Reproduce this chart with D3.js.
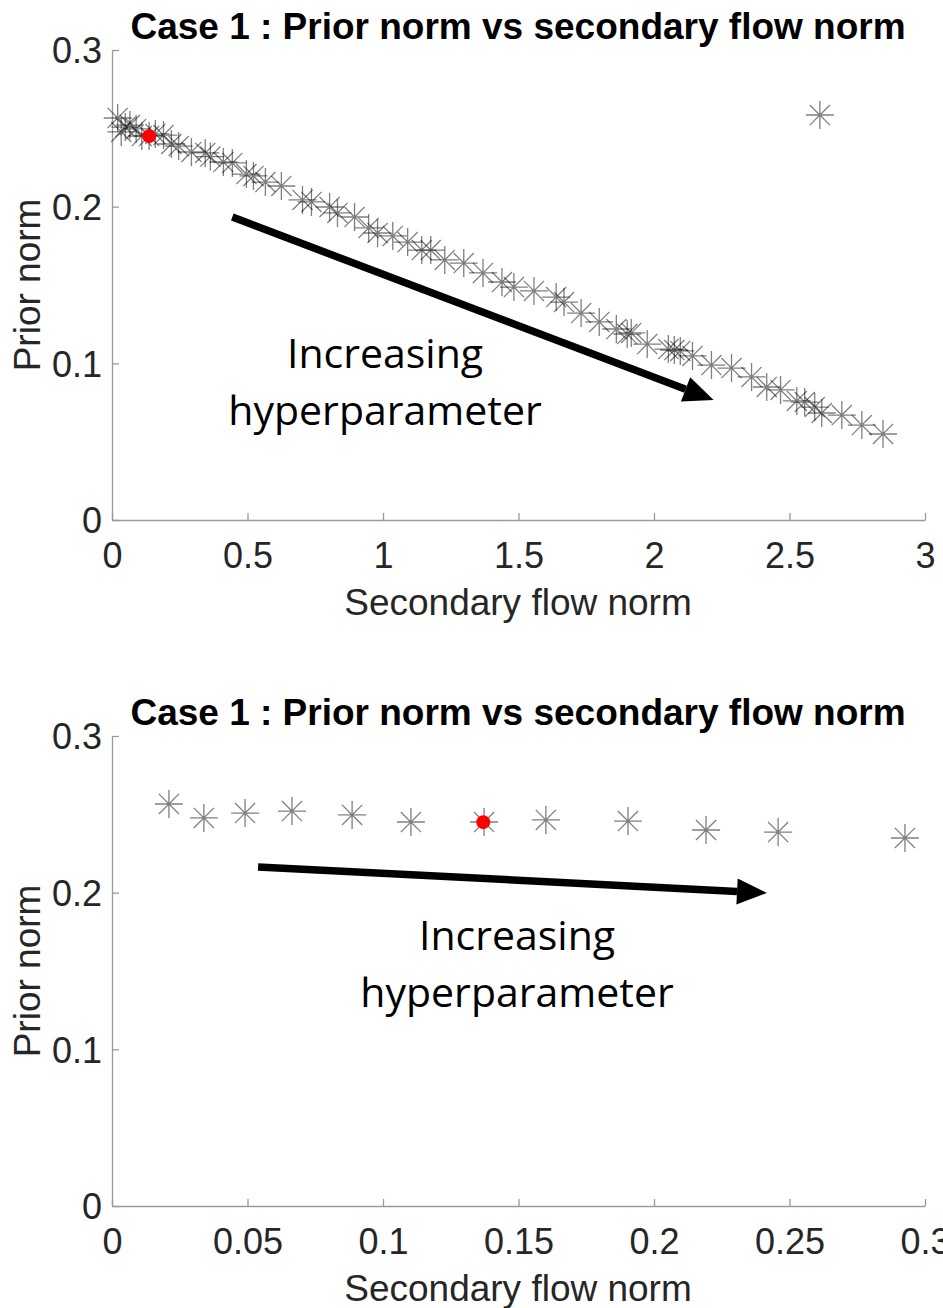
<!DOCTYPE html>
<meta charset="utf-8">
<script src="https://d3js.org/d3.v7.min.js"></script>
<style>
  body { margin: 0; background: #fff; }
</style>
<body>
<div id="chart"></div>
</body>
<script>

// top panel: all runs
var flowAll = [0.021, 0.034, 0.049, 0.066, 0.089, 0.110, 0.137, 0.160, 0.190, 0.219, 0.246, 0.293,
  0.344, 0.363, 0.411, 0.444, 0.496, 0.522, 0.566, 0.625, 0.703, 0.736, 0.803, 0.832, 0.895,
  0.947, 0.980, 1.036, 1.091, 1.143, 1.176, 1.228, 1.298, 1.369, 1.439, 1.483, 1.557, 1.639,
  1.668, 1.731, 1.798, 1.861, 1.901, 1.916, 1.975, 2.053, 2.075, 2.097, 2.142, 2.212, 2.286,
  2.360, 2.416, 2.467, 2.527, 2.556, 2.593, 2.619, 2.693, 2.767, 2.845, 2.612];
var priorAll = [0.2566, 0.2477, 0.2508, 0.2521, 0.2496, 0.2451, 0.2451, 0.2464, 0.2457, 0.2400, 0.2387, 0.2349,
  0.2343, 0.2320, 0.2285, 0.2279, 0.2208, 0.2196, 0.2157, 0.2132, 0.2043, 0.2030, 0.1998, 0.1960, 0.1934,
  0.1864, 0.1832, 0.1813, 0.1774, 0.1723, 0.1723, 0.1660, 0.1640, 0.1577, 0.1519, 0.1487, 0.1462, 0.1423,
  0.1391, 0.1321, 0.1264, 0.1219, 0.1187, 0.1194, 0.1123, 0.1091, 0.1085, 0.1079, 0.1047, 0.0989, 0.0970,
  0.0913, 0.0849, 0.0830, 0.0760, 0.0753, 0.0721, 0.0683, 0.0670, 0.0606, 0.0549, 0.2585];

// bottom panel: zoom on small flow norm
var flowZoom = [0.0210, 0.0339, 0.0491, 0.0664, 0.0886, 0.1103, 0.1373, 0.1601, 0.1904, 0.2192, 0.2458, 0.2926];
var priorZoom = [0.2566, 0.2477, 0.2508, 0.2521, 0.2496, 0.2451, 0.2451, 0.2464, 0.2457, 0.2400, 0.2387, 0.2349];

// selected hyperparameter
var chosen = { flow: 0.137, prior: 0.245 };

var xTicksTop = [0, 0.5, 1, 1.5, 2, 2.5, 3];
var xTicksBottom = [0, 0.05, 0.1, 0.15, 0.2, 0.25, 0.3];
var yTicks = [0, 0.1, 0.2, 0.3];

// arrows [x0, y0, x1, y1] in data units
var arrowTop = [0.444, 0.1934, 2.22, 0.0766];
var arrowBottom = [0.0539, 0.2164, 0.2417, 0.1998];

var title = "Case 1 : Prior norm vs secondary flow norm";

var W = 943, H = 1308;
var svg = d3.select("#chart").append("svg")
  .attr("width", W).attr("height", H);

function asterisk(r) {
  var d = r * 0.72;
  return "M" + (-r) + ",0H" + r + "M0," + (-r) + "V" + r +
    "M" + (-d) + "," + (-d) + "L" + d + "," + d +
    "M" + (-d) + "," + d + "L" + d + "," + (-d);
}

function panel(opt) {
  var x = d3.scaleLinear().domain(opt.xDomain).range([112, 925]);
  var y = d3.scaleLinear().domain([0, 0.3]).range([opt.bottom, opt.bottom - 470]);
  var g = svg.append("g");

  // axes
  var ax = g.append("g").attr("transform", "translate(0," + opt.bottom + ")")
    .call(d3.axisBottom(x).tickValues(opt.xTicks).tickSize(-7).tickSizeOuter(0)
      .tickFormat(d3.format("~g")));
  ax.selectAll("text").attr("dy", 0).attr("y", 48);
  var ay = g.append("g").attr("transform", "translate(112,0)")
    .call(d3.axisLeft(y).tickValues(yTicks).tickSize(-7).tickSizeOuter(0)
      .tickFormat(d3.format("~g")));
  ay.selectAll("text").attr("x", -10).attr("dy", "0.36em");
  g.selectAll(".domain, .tick line").attr("stroke", "#9a9a9a").attr("stroke-width", 1.3);
  g.selectAll(".tick text").attr("font-family", "Liberation Sans, Arial, sans-serif")
    .attr("font-size", 36).attr("fill", "#262626");

  // markers
  g.append("g").selectAll("path")
    .data(opt.xs)
    .join("path")
    .attr("transform", function (d, i) { return "translate(" + x(d) + "," + y(opt.ys[i]) + ")"; })
    .attr("d", asterisk(14))
    .attr("stroke", "#000")
    .attr("stroke-opacity", 0.5)
    .attr("stroke-width", 1.3)
    .attr("fill", "none");

  g.append("circle")
    .attr("cx", x(chosen.flow)).attr("cy", y(chosen.prior))
    .attr("r", 7).attr("fill", "#ff0000");

  // arrow
  var a = opt.arrow;
  var x0 = x(a[0]), y0 = y(a[1]), x1 = x(a[2]), y1 = y(a[3]);
  var ang = Math.atan2(y1 - y0, x1 - x0);
  var hl = 30, hw = 13;
  var bx = x1 - hl * Math.cos(ang), by = y1 - hl * Math.sin(ang);
  g.append("line")
    .attr("x1", x0).attr("y1", y0).attr("x2", bx).attr("y2", by)
    .attr("stroke", "#000").attr("stroke-width", 7.5);
  g.append("path")
    .attr("d", "M" + x1 + "," + y1 +
      "L" + (bx + hw * Math.sin(ang)) + "," + (by - hw * Math.cos(ang)) +
      "L" + (bx - hw * Math.sin(ang)) + "," + (by + hw * Math.cos(ang)) + "Z")
    .attr("fill", "#000");

  // annotation
  var t = g.append("text")
    .attr("font-family", "Open Sans, sans-serif")
    .attr("font-size", 41)
    .attr("text-anchor", "middle")
    .attr("fill", "#000");
  t.append("tspan").attr("x", opt.noteX).attr("y", opt.noteY).text("Increasing");
  t.append("tspan").attr("x", opt.noteX).attr("y", opt.noteY + 57).text("hyperparameter");

  // title and labels
  g.append("text")
    .attr("x", 518).attr("y", opt.bottom - 481)
    .attr("text-anchor", "middle")
    .attr("font-family", "Liberation Sans, Arial, sans-serif")
    .attr("font-weight", "bold").attr("font-size", 37)
    .attr("fill", "#000")
    .text(title);
  g.append("text")
    .attr("x", 518).attr("y", opt.bottom + 95)
    .attr("text-anchor", "middle")
    .attr("font-family", "Liberation Sans, Arial, sans-serif")
    .attr("font-size", 37)
    .attr("fill", "#262626")
    .text("Secondary flow norm");
  g.append("text")
    .attr("transform", "translate(40," + (opt.bottom - 235) + ") rotate(-90)")
    .attr("text-anchor", "middle")
    .attr("font-family", "Liberation Sans, Arial, sans-serif")
    .attr("font-size", 37)
    .attr("fill", "#262626")
    .text("Prior norm");
}

panel({ xDomain: [0, 3], xTicks: xTicksTop, bottom: 520, xs: flowAll, ys: priorAll,
  arrow: arrowTop, noteX: 385, noteY: 368 });
panel({ xDomain: [0, 0.3], xTicks: xTicksBottom, bottom: 1206, xs: flowZoom, ys: priorZoom,
  arrow: arrowBottom, noteX: 517, noteY: 950 });

</script>
